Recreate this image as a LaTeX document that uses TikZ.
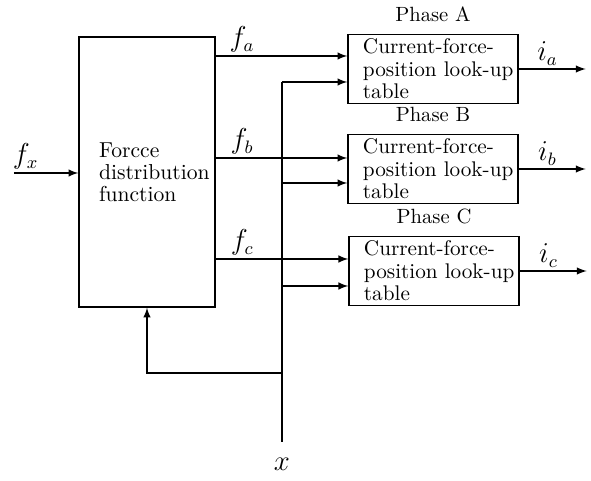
\documentclass[tikz,border=0pt]{standalone}
\usetikzlibrary{positioning}

\tikzset{
  blockbox/.style={draw, line width=0.7pt, align=left, inner ysep=0pt},
  fdbox/.style={blockbox, minimum width=68pt, minimum height=135pt,
    text width=48pt, inner xsep=10pt, font=\fontsize{10.8}{11}\selectfont},
  lutbox/.style={blockbox, minimum width=85pt, minimum height=34.5pt,
    text width=84pt, inner xsep=0.5pt, font=\fontsize{10.6}{11.2}\selectfont,
    execute at begin node={\leftskip=7pt\relax}},
  phase/.style={font=\fontsize{10.3}{12}\selectfont, inner sep=0pt},
  sig/.style={inner sep=1.5pt, font=\fontsize{13.5}{16}\selectfont},
}

\begin{document}
\begin{tikzpicture}[>=latex, x=0.5pt, y=-0.5pt, line width=0.7pt]
		\useasboundingbox (0,0) rectangle (591,481);

		% Blocs
		\node[fdbox] (fdf) at (147,172) {Forcce\\distribution\\function};
		\node[lutbox] (lutA) at (433,69) {Current-force-\\position look-up\\table};
		\node[lutbox] (lutB) at (433,169) {Current-force-\\position look-up\\table};
		\node[lutbox] (lutC) at (434,271) {Current-force-\\position look-up\\table};
		\node[phase, above=5.5pt of lutA] (phA) {Phase A};
		\node[phase, above=5.5pt of lutB] (phB) {Phase B};
		\node[phase, above=5.5pt of lutC] (phC) {Phase C};

		% Points de depart
		\coordinate (fxin) at (14,173);
		\coordinate (fa) at (fdf.east |- 0,56);
		\coordinate (fb) at (fdf.east |- 0,158);
		\coordinate (fc) at (fdf.east |- 0,259);
		\coordinate (xin) at (282,442);
		\coordinate (xfb) at (xin |- 0,373);

		% Entree et sorties de la repartition
		\draw[->] (fxin) -- node[sig, pos=0.18, above] {$f_x$} (fxin -| fdf.west);
		\draw[->] (fa) -- node[sig, pos=0.2, above] {$f_a$} (fa -| lutA.west);
		\draw[->] (fb) -- node[sig, pos=0.2, above] {$f_b$} (fb -| lutB.west);
		\draw[->] (fc) -- node[sig, pos=0.2, above] {$f_c$} (fc -| lutC.west);

		% Position x
		\draw (xin) -- (xin |- 0,82);
		\draw[->] (xin |- 0,82) -- (lutA.west |- 0,82);
		\draw[->] (xin |- 0,183) -- (lutB.west |- 0,183);
		\draw[->] (xin |- 0,286) -- (lutC.west |- 0,286);
		\draw[->] (xfb) -| (fdf.south);
		\node[sig, below=6pt of xin] (xlab) {$x$};

		% Courants de phase
		\draw[->] (lutA.east) -- node[sig, pos=0.43, above] {$i_a$} ++(67,0);
		\draw[->] (lutB.east) -- node[sig, pos=0.43, above] {$i_b$} ++(67,0);
		\draw[->] (lutC.east) -- node[sig, pos=0.43, above] {$i_c$} ++(67,0);
	\end{tikzpicture}
\end{document}
